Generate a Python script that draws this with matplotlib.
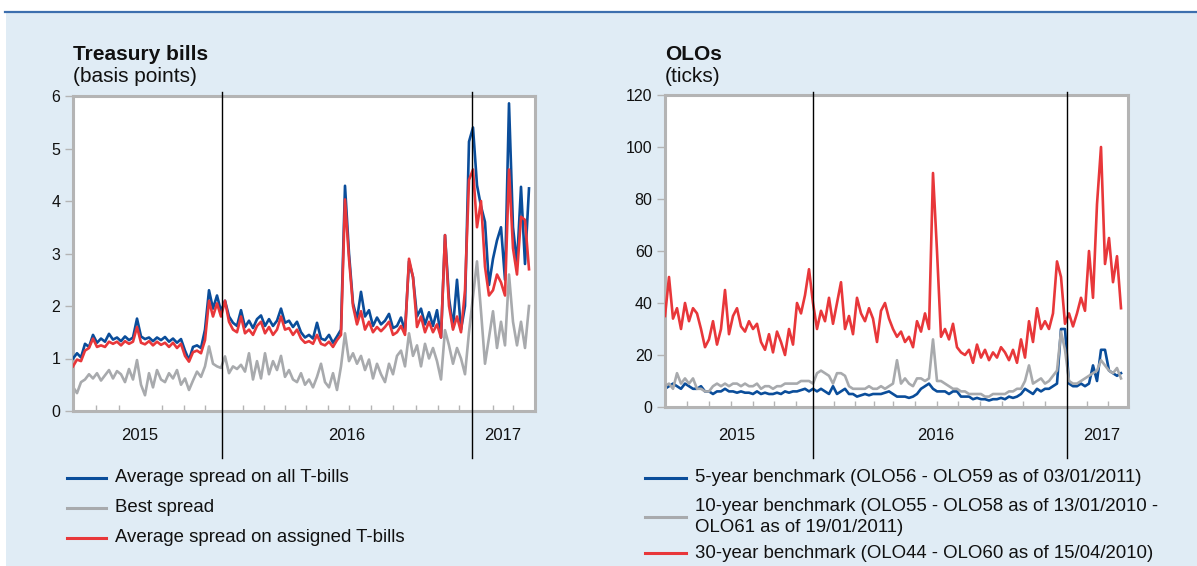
import numpy as np
import matplotlib
matplotlib.use('Agg')
import matplotlib.pyplot as plt
from matplotlib.lines import Line2D
from matplotlib.patches import Rectangle

plt.rcParams['font.family'] = ['Liberation Sans', 'DejaVu Sans']

# ---------------- data (one sample every STEP business days, June 2015 - March 2017)
STEP = 4

tb_all = [1.00, 1.10, 1.02, 1.28, 1.22, 1.45, 1.30, 1.38, 1.32, 1.47,
          1.36, 1.40, 1.33, 1.42, 1.35, 1.40, 1.76, 1.42, 1.37, 1.40,
          1.33, 1.40, 1.35, 1.41, 1.32, 1.38, 1.30, 1.37, 1.15, 0.97,
          1.22, 1.25, 1.20, 1.55, 2.30, 1.95, 2.20, 1.90, 2.10, 1.80,
          1.68, 1.62, 1.92, 1.60, 1.72, 1.58, 1.75, 1.82, 1.62, 1.75,
          1.62, 1.72, 1.95, 1.68, 1.72, 1.60, 1.70, 1.50, 1.40, 1.45,
          1.38, 1.68, 1.38, 1.35, 1.45, 1.30, 1.42, 1.55, 4.29, 3.00,
          2.05, 1.75, 2.27, 1.80, 1.92, 1.62, 1.78, 1.65, 1.72, 1.85,
          1.58, 1.62, 1.78, 1.52, 2.85, 2.55, 1.80, 1.95, 1.65, 1.88,
          1.62, 1.92, 1.40, 3.35, 2.15, 1.60, 2.50, 1.55, 2.00, 5.13,
          5.40, 4.30, 3.90, 3.60, 2.40, 2.90, 3.25, 3.50, 2.50, 5.86,
          3.50, 2.80, 4.27, 2.80, 4.24]

tb_best = [0.46, 0.34, 0.55, 0.60, 0.70, 0.62, 0.72, 0.58, 0.68, 0.78,
           0.62, 0.76, 0.70, 0.55, 0.80, 0.60, 0.97, 0.50, 0.30, 0.72,
           0.45, 0.78, 0.60, 0.55, 0.72, 0.62, 0.78, 0.50, 0.62, 0.40,
           0.58, 0.75, 0.65, 0.85, 1.23, 0.90, 0.85, 0.82, 1.04, 0.72,
           0.85, 0.80, 0.88, 0.75, 1.10, 0.60, 0.95, 0.62, 1.10, 0.70,
           0.95, 0.78, 1.05, 0.65, 0.78, 0.60, 0.55, 0.72, 0.50, 0.60,
           0.45, 0.65, 0.90, 0.55, 0.45, 0.72, 0.40, 0.85, 1.48, 0.95,
           1.10, 0.90, 1.05, 0.78, 0.98, 0.62, 0.90, 0.70, 0.55, 0.90,
           0.70, 1.05, 1.15, 0.85, 1.48, 1.05, 1.25, 0.85, 1.28, 1.00,
           1.20, 0.95, 0.60, 1.54, 1.25, 0.90, 1.20, 1.00, 0.70, 1.50,
           2.18, 2.85, 1.90, 0.90, 1.40, 1.90, 1.20, 1.70, 1.25, 2.60,
           1.70, 1.25, 1.70, 1.20, 2.00]

tb_assigned = [0.85, 0.98, 0.95, 1.15, 1.20, 1.38, 1.22, 1.25, 1.22, 1.32,
               1.28, 1.32, 1.25, 1.33, 1.28, 1.32, 1.60, 1.30, 1.27, 1.33,
               1.25, 1.32, 1.26, 1.30, 1.22, 1.30, 1.20, 1.28, 1.05, 0.94,
               1.12, 1.15, 1.10, 1.35, 2.10, 1.80, 2.05, 1.80, 2.10, 1.70,
               1.55, 1.50, 1.80, 1.48, 1.55, 1.45, 1.62, 1.70, 1.48, 1.60,
               1.45, 1.55, 1.80, 1.55, 1.58, 1.45, 1.55, 1.38, 1.30, 1.33,
               1.28, 1.45, 1.28, 1.25, 1.32, 1.22, 1.35, 1.45, 4.03, 2.90,
               2.00, 1.65, 1.90, 1.55, 1.70, 1.50, 1.60, 1.52, 1.60, 1.70,
               1.45, 1.50, 1.62, 1.45, 2.90, 2.55, 1.60, 1.80, 1.50, 1.70,
               1.50, 1.65, 1.40, 3.35, 2.00, 1.55, 1.80, 1.50, 2.30, 4.40,
               4.60, 3.50, 4.00, 2.75, 2.20, 2.30, 2.60, 2.45, 2.20, 4.60,
               3.10, 2.60, 3.70, 3.64, 2.70]

olo5 = [7, 8, 9, 8, 7, 9, 8, 7, 7, 8,
        6, 6, 5, 6, 6, 7, 6, 6, 5.5, 6,
        5.5, 5.5, 5, 6, 5, 5.5, 5, 5, 5.5, 5,
        6, 5.5, 6, 6, 6.5, 7, 6, 7, 6, 7,
        6, 5, 8, 5, 6, 7, 5, 5, 4, 4.5,
        5, 4.5, 5, 5, 5, 5.5, 6, 5, 4, 4,
        4, 3.5, 4, 5, 7, 8, 9, 7, 6, 6,
        6, 5, 6, 6, 4, 4, 4, 3, 3.5, 3,
        3, 2.5, 3, 3, 3.5, 3, 4, 3.5, 4, 5,
        7, 6, 5, 7, 6, 7, 7, 8, 9, 30,
        30, 9, 8, 8, 9, 8, 9, 16, 10, 22,
        22, 14, 13, 12, 13]

olo10 = [8, 9, 7, 13, 9, 11, 9, 11, 7, 7,
         6, 6, 8, 9, 8, 9, 8, 9, 9, 8,
         9, 8, 8, 9, 7, 8, 8, 7, 8, 8,
         9, 9, 9, 9, 10, 10, 10, 9, 13, 14,
         13, 12, 9, 13, 13, 12, 8, 7, 7, 7,
         7, 8, 7, 7, 8, 7, 8, 9, 18, 9,
         11, 9, 8, 11, 11, 10, 11, 26, 10, 10,
         9, 8, 7, 7, 6, 6, 5, 5, 5, 5,
         4, 4, 5, 5, 5, 5, 6, 6, 7, 7,
         10, 16, 9, 10, 11, 9, 10, 12, 14, 29,
         22, 10, 9, 9, 10, 11, 12, 13, 14, 18,
         16, 14, 13, 15, 11]

olo30 = [35, 50, 34, 38, 30, 40, 33, 38, 36, 30,
         23, 26, 33, 24, 30, 45, 28, 35, 38, 31,
         29, 33, 30, 32, 25, 22, 28, 21, 29, 25,
         20, 30, 24, 40, 36, 43, 53, 40, 30, 37,
         33, 42, 32, 40, 48, 30, 35, 28, 42, 36,
         33, 38, 34, 25, 37, 40, 34, 30, 27, 29,
         25, 27, 23, 33, 29, 36, 30, 90, 60, 27,
         30, 26, 32, 23, 21, 20, 22, 17, 24, 19,
         22, 18, 21, 19, 23, 21, 18, 22, 17, 26,
         19, 33, 25, 38, 30, 33, 30, 36, 56, 50,
         32, 36, 31, 36, 42, 37, 60, 42, 78, 100,
         55, 65, 48, 58, 38]

# month-start observations, year boundaries and year-label centres (observation index)
tb_month_ticks = [23, 46, 67, 89, 111, 132, 170, 191, 212, 233, 255, 276,
                  298, 320, 343, 365, 386, 420, 440]
olo_month_ticks = [22, 44, 66, 88, 109, 131, 169, 190, 209, 228, 250, 272,
                   293, 315, 337, 358, 380, 422, 443]
tb_year_breaks = [149.3, 398.7]
olo_year_breaks = [147.7, 401.7]
tb_year_pos = [67, 274, 430]
olo_year_pos = [72, 271, 437]
year_labels = ['2015', '2016', '2017']

tb_yticks = [0, 1, 2, 3, 4, 5, 6]
olo_yticks = [0, 20, 40, 60, 80, 100, 120]

tb_legend = ['Average spread on all T-bills', 'Best spread',
             'Average spread on assigned T-bills']
olo_legend = ['5-year benchmark (OLO56 - OLO59 as of 03/01/2011)',
              '10-year benchmark (OLO55 - OLO58 as of 13/01/2010 -\nOLO61 as of 19/01/2011)',
              '30-year benchmark (OLO44 - OLO60 as of 15/04/2010)']

# ---------------- style
BLUE = '#0a4d9a'
GRAY = '#a8aaad'
RED = '#e8373a'
BG = '#e0ecf5'
FRAME = '#b4b4b4'
W, H = 1197, 566

fig = plt.figure(figsize=(W / 100, H / 100), dpi=100, facecolor='white')

# light blue panel and top rule (behind everything)
fig.patches.append(Rectangle((6 / W, 0), 1 - 6 / W, (H - 12) / H,
                             transform=fig.transFigure, facecolor=BG,
                             edgecolor='none', zorder=-10))
fig.lines.append(Line2D([5 / W, 1], [(H - 12) / H] * 2, transform=fig.transFigure,
                        color='#3d6fae', lw=1.6, zorder=-9))


def fx(px):
    return px / W


def fy(py):
    return (H - py) / H


def make_axes(rect_px, xmax, ylim, yticks, month_ticks, year_pos, breaks,
              label_pad):
    x0, y0, x1, y1 = rect_px
    ax = fig.add_axes([fx(x0), fy(y1), (x1 - x0) / W, (y1 - y0) / H])
    ax.set_facecolor('white')
    ax.set_xlim(0, xmax)
    ax.set_ylim(*ylim)
    for s in ax.spines.values():
        s.set_color(FRAME)
        s.set_linewidth(2.2)
    ax.set_yticks(yticks)
    ax.tick_params(axis='y', which='major', direction='out', length=6,
                   width=1, color=FRAME, labelsize=11.5, pad=3,
                   labelcolor='#111111')
    ax.set_xticks(year_pos)
    ax.set_xticklabels(year_labels)
    ax.tick_params(axis='x', which='major', length=0, labelsize=12,
                   pad=label_pad, labelcolor='#111111')
    ax.set_xticks(month_ticks, minor=True)
    ax.tick_params(axis='x', which='minor', direction='in', length=4,
                   width=1, color=FRAME)
    span = y1 - y0
    for b in breaks:
        ax.axvline(b, ymin=-(458 - y1) / span, ymax=1 + (y0 - 92) / span,
                   color='black', lw=1.0, clip_on=False, zorder=5)
    return ax


ax1 = make_axes((73, 96, 535, 411), 462, (0, 6), tb_yticks, tb_month_ticks,
                tb_year_pos, tb_year_breaks, 12)
ax2 = make_axes((665, 95, 1128, 407), 463, (0, 120), olo_yticks,
                olo_month_ticks, olo_year_pos, olo_year_breaks, 15)

LW = 1.9
x_tb = np.arange(len(tb_all)) * STEP
ax1.plot(x_tb, tb_best, color=GRAY, lw=LW, zorder=2)
ax1.plot(x_tb, tb_all, color=BLUE, lw=LW, zorder=3)
ax1.plot(x_tb, tb_assigned, color=RED, lw=LW, zorder=4)

x_olo = np.arange(len(olo30)) * STEP
ax2.plot(x_olo, olo5, color=BLUE, lw=LW, zorder=2)
ax2.plot(x_olo, olo10, color=GRAY, lw=LW, zorder=3)
ax2.plot(x_olo, olo30, color=RED, lw=LW, zorder=4)

# titles
TITLE_FS = 15
fig.text(fx(73), fy(60), 'Treasury bills', fontsize=TITLE_FS, fontweight='bold',
         va='baseline', ha='left', color='#111111')
fig.text(fx(73), fy(81.5), '(basis points)', fontsize=TITLE_FS, va='baseline',
         ha='left', color='#111111')
fig.text(fx(665), fy(60), 'OLOs', fontsize=TITLE_FS, fontweight='bold',
         va='baseline', ha='left', color='#111111')
fig.text(fx(665), fy(81.5), '(ticks)', fontsize=TITLE_FS, va='baseline',
         ha='left', color='#111111')

# legends
LEG_FS = 13.4
for lab, col, y in zip(tb_legend, [BLUE, GRAY, RED], [478, 508, 538]):
    fig.lines.append(Line2D([fx(67), fx(106)], [fy(y)] * 2,
                            transform=fig.transFigure, color=col, lw=2.2))
    fig.text(fx(115), fy(y), lab, fontsize=LEG_FS, va='center', ha='left',
             color='#111111')

for lab, col, y in zip(olo_legend, [BLUE, GRAY, RED], [478, 517, 553]):
    fig.lines.append(Line2D([fx(645), fx(686)], [fy(y)] * 2,
                            transform=fig.transFigure, color=col, lw=2.2))
    fig.text(fx(695), fy(y), lab, fontsize=LEG_FS, va='center', ha='left',
             color='#111111', linespacing=1.35)

fig.savefig('out.png', dpi=100, facecolor=fig.get_facecolor())
